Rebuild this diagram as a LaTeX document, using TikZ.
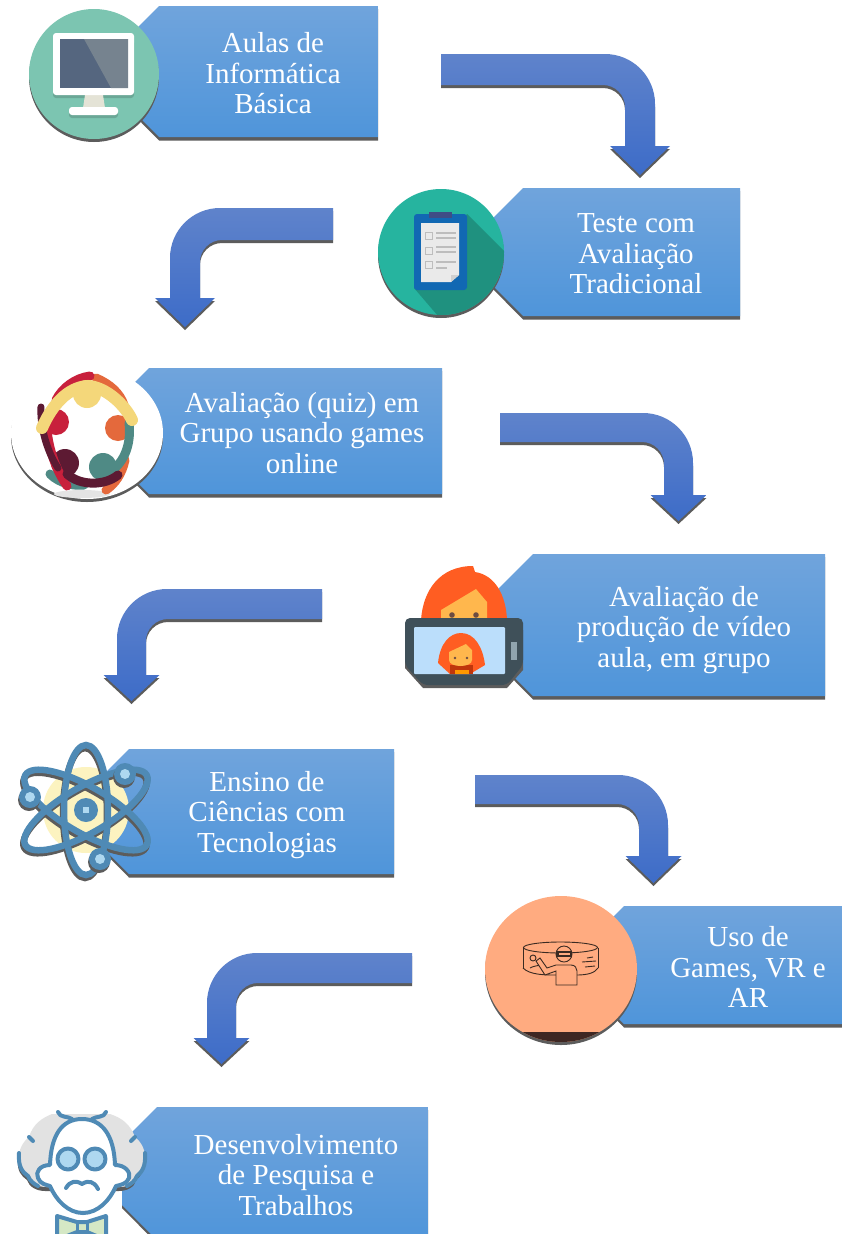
\documentclass[tikz,border=0pt]{standalone}
\usepackage{fontspec}
\setmainfont{Liberation Serif}
\definecolor{bantop}{HTML}{70A4DC}
\definecolor{banmid}{HTML}{619EDD}
\definecolor{banbot}{HTML}{4F95DA}
\definecolor{arrtop}{HTML}{5F83CB}
\definecolor{arrbot}{HTML}{3D6CC8}
\definecolor{castshade}{HTML}{5C5C5C}
\definecolor{atomblue}{HTML}{4F8AB5}
\definecolor{paleblue}{HTML}{AED8F0}
\definecolor{vrink}{HTML}{3A2A22}
\definecolor{vrbadge}{HTML}{FFAB80}
\definecolor{bowgreen}{HTML}{D5E8C5}
\definecolor{hairgrey}{HTML}{E2E2E2}
\tikzset{
  hx/.code={\definecolor{hxtmp}{HTML}{#1}\pgfkeysalso{color=hxtmp}},
  bannerfill/.style={top color=bantop,middle color=banmid,bottom color=banbot},
  arrowfill/.style={top color=arrtop,bottom color=arrbot},
  cast/.style={fill=castshade},
  captiontext/.style={text=white,align=center,font=\fontsize{29}{30.5}\selectfont,inner sep=0pt},
  orbit/.style={draw=atomblue,line width=6.5pt},
  orbitcast/.style={draw=castshade,line width=6.5pt},
  person/.style={line width=9pt,line cap=round},
  sciline/.style={draw=atomblue,line width=4pt,line join=round,line cap=round},
  vrline/.style={draw=vrink,line width=0.9pt}
}
% #1 top, #2 bottom, #3 chamfer start x, #4 right edge, #5 text centre x, #6 text centre y, #7 node name, #8 caption
\newcommand{\banner}[8]{
  \fill[cast] (#3,#1+3) -- (#3-35,#1+38) -- (#3-35,#2-32) -- (#3,#2+3.5) -- (#4,#2+3.5) -- (#4,#1+3) -- cycle;
  \shade[bannerfill] (#3,#1) -- (#3-35,#1+35) -- (#3-35,#2-35) -- (#3,#2) -- (#4,#2) -- (#4,#1) -- cycle;
  \node[captiontext] (#7) at (#5,#6) {#8};
}
% #1 free end x, #2 bar top, #3 bar bottom, #4 outer x, #5 inner x, #6 head y, #7 head half width, #8 tip y
\newcommand{\bentarrow}[8]{
  \begin{scope}[shift={(0,3)}]
    \fill[cast] (#1,#2) [rounded corners=50pt] -- (#4,#2) [sharp corners] -- (#4,#6)
      -- ({(#4+#5)/2+#7},#6) -- ({(#4+#5)/2},#8) -- ({(#4+#5)/2-#7},#6) -- (#5,#6)
      [rounded corners=22pt] -- (#5,#3) [sharp corners] -- (#1,#3) -- cycle;
  \end{scope}
  \shade[arrowfill] (#1,#2) [rounded corners=50pt] -- (#4,#2) [sharp corners] -- (#4,#6)
    -- ({(#4+#5)/2+#7},#6) -- ({(#4+#5)/2},#8) -- ({(#4+#5)/2-#7},#6) -- (#5,#6)
    [rounded corners=22pt] -- (#5,#3) [sharp corners] -- (#1,#3) -- cycle;
}
% outline of the scientist's hair, used for both the cast shadow and the fill
\newcommand{\hairoutline}{
  (52,1114) .. controls (42,1118) and (33,1124) .. (29,1137)
  .. controls (24,1141) and (19,1148) .. (19,1157)
  .. controls (18,1166) and (22,1172) .. (28,1176)
  .. controls (30,1183) and (38,1187) .. (46,1187) -- (120,1187)
  .. controls (128,1187) and (136,1183) .. (137,1176)
  .. controls (142,1172) and (146,1166) .. (145,1157)
  .. controls (145,1148) and (140,1141) .. (135,1137)
  .. controls (130,1124) and (122,1118) .. (110,1114) -- cycle
}
\begin{document}
\begin{tikzpicture}[x=1pt,y=-1pt]
\useasboundingbox (0,0) rectangle (842,1234);
\clip (0,0) rectangle (842,1234);
\fill[white] (0,0) rectangle (842,1234);

% flow arrows
\bentarrow{441}{54}{85}{655}{625}{146}{30}{175}
\bentarrow{333}{208}{240}{170}{200}{298}{30}{327}
\bentarrow{500}{413}{442}{693}{664}{495}{28}{521}
\bentarrow{322}{589}{619}{117}{146}{675}{28}{701}
\bentarrow{475}{775}{804}{668}{639}{856}{28}{883}
\bentarrow{412}{953}{983}{207}{236}{1038}{28}{1064}

% caption banners
\banner{6}{137}{159}{378}{273}{73.5}{b1}{Aulas de\\Informática\\Básica}
\banner{188}{316}{523}{740}{636}{254}{b2}{Teste com\\Avaliação\\Tradicional}
\banner{368}{494}{149}{442}{302}{433}{b3}{Avaliação (quiz) em\\Grupo usando games\\online}
\banner{554}{696}{533}{825}{684}{630}{b4}{Avaliação de\\produção de vídeo\\aula, em grupo}
\banner{749}{874}{129}{394}{267}{815}{b5}{Ensino de\\Ciências com\\Tecnologias}
\banner{906}{1024}{624}{842}{748}{967}{b6}{Uso de\\Games, VR e\\AR}
\banner{1107}{1240}{157}{428}{296}{1175}{b7}{Desenvolvimento\\de Pesquisa e\\Trabalhos}

% monitor badge
\fill[cast] (94,77) circle [radius=65pt];
\fill[hx=7CC5B1] (94,74) circle [radius=65pt];
\fill[hx=6AA796, rounded corners=3pt] (53,40) rectangle (134,98);
\fill[hx=E4E3D6] (85,95) -- (103,95) -- (105,108) -- (83,108) -- cycle;
\fill[hx=6AA796, rounded corners=3pt] (69,110) rectangle (118,118);
\fill[white, rounded corners=3pt] (69,107) rectangle (118,115);
\fill[white, rounded corners=3pt] (53,33) rectangle (134,95);
\fill[hx=55667F] (60,39) rectangle (128,88);
\fill[hx=76838F] (84,39) -- (128,39) -- (128,88) -- (111,88) -- cycle;

% clipboard badge
\fill[cast] (441,255) circle [radius=63pt];
\fill[hx=26B49F] (441,252) circle [radius=63pt];
\begin{scope}
  \clip (441,252) circle [radius=63pt];
  \fill[hx=1F917F] (467,214) -- (520,267) -- (450,330) -- (414,288) -- cycle;
\end{scope}
\fill[hx=1168B3, rounded corners=3pt] (414,214) rectangle (467,290);
\fill[hx=3F4D85] (429,212) rectangle (452,218);
\fill[hx=EAEAEA] (421,223) -- (459,223) -- (459,275) -- (451,282) -- (421,282) -- cycle;
\fill[hx=D0D0D0] (459,275) -- (451,275) -- (451,282) -- cycle;
\foreach \yy in {232,247,261} {
  \draw[hx=BDBDBD, line width=1.5pt] (425.5,\yy+.5) rectangle (432.5,\yy+7.5);
}
\draw[hx=BDBDBD, line width=1.6pt]
  (436,233) -- (456,233) (436,238) -- (456,238)
  (436,247) -- (456,247) (436,252) -- (456,252)
  (436,262) -- (456,262) (436,268) -- (447,268);

% group badge
\fill[cast] (87,436) ellipse [x radius=76pt, y radius=66pt];
\fill[white] (87,433) ellipse [x radius=76pt, y radius=66pt];
\fill[hx=E4E4E4] (82,494) ellipse [x radius=28pt, y radius=4pt];
\fill[hx=C8203C] (56,422) circle [radius=13pt];
\fill[hx=E4693C] (118,428) circle [radius=13pt];
\fill[hx=4F8A85] (103,467) circle [radius=14pt];
\fill[hx=5D1A33] (65,463) circle [radius=14pt];
\draw[person, hx=E4693C] (96,378) .. controls (110,384) and (120,393) .. (124,405);
\draw[person, hx=E4693C] (125,460) .. controls (122,474) and (115,484) .. (106,490);
\draw[person, hx=4F8A85] (129,423) .. controls (131,440) and (127,458) .. (113,470);
\draw[person, hx=4F8A85] (50,474) .. controls (60,484) and (74,486) .. (84,485);
\draw[person, hx=C8203C] (90,376) .. controls (75,378) and (62,388) .. (56,400);
\draw[person, hx=C8203C] (47,430) .. controls (49,450) and (56,470) .. (67,486);
\draw[person, hx=5D1A33, line width=7pt] (41,407) .. controls (40,425) and (46,450) .. (58,468);
\draw[person, hx=5D1A33] (67,474) .. controls (80,486) and (105,486) .. (118,475);
\draw[person, hx=F4D77A, line width=12pt] (42,428) .. controls (52,405) and (68,387) .. (88,386)
   .. controls (106,387) and (125,405) .. (132,420);
\fill[hx=F4D77A] (87,394) circle [radius=14pt];

% video call badge
\fill[hx=FF5D22] (421,620) .. controls (423,590) and (440,566) .. (473,566) -- (475,572)
  .. controls (495,575) and (506,595) .. (507,620) -- cycle;
\fill[hx=FFB74D] (441,610) -- (476,589) -- (487,602) -- (487,620) -- (441,620) -- cycle;
\fill[hx=6D4C41] (452,615) circle [radius=2.8pt] (476,615) circle [radius=2.8pt];
\fill[cast] (405,630) -- (405,668) -- (423,688) -- (507,688) -- (523,670) -- (523,630) -- cycle;
\fill[hx=3F5059, rounded corners=5pt] (405,665) -- (405,618) -- (523,618) -- (523,665) -- (507,685) -- (423,685) -- cycle;
\fill[hx=BBDEFB, rounded corners=1pt] (414,627) rectangle (505,674);
\fill[hx=90A4AE] (511,642) rectangle (517,660);
\begin{scope}
  \clip (414,627) rectangle (505,674);
  \fill[hx=FF5D22] (438,663) .. controls (440,643) and (450,633) .. (461,633)
    .. controls (475,633) and (483,648) .. (485,665) -- (470,674) -- (450,674) -- cycle;
  \fill[hx=BF360C] (450,665) rectangle (473,674);
  \fill[hx=FF9800] (455,670) rectangle (469,674);
  \fill[hx=FFB74D] (449,652) -- (466,644) -- (472,650) -- (472,660) .. controls (472,668) and (449,668) .. (449,660) -- cycle;
  \fill[hx=6D4C41] (455,658) circle [radius=1.3pt] (467,658) circle [radius=1.3pt];
\end{scope}

% atom badge
\fill[hx=FCF3C0] (86,810) circle [radius=43pt];
\draw[orbitcast] (85,813) ellipse [x radius=22pt, y radius=65pt];
\draw[orbitcast] (85,813) ellipse [x radius=70pt, y radius=23pt, rotate=30];
\draw[orbitcast] (85,813) ellipse [x radius=70pt, y radius=23pt, rotate=-30];
\draw[orbit] (86,810) ellipse [x radius=22pt, y radius=65pt];
\draw[orbit] (86,810) ellipse [x radius=70pt, y radius=23pt, rotate=30];
\draw[orbit] (86,810) ellipse [x radius=70pt, y radius=23pt, rotate=-30];
\fill[atomblue] (86,810) circle [radius=12pt];
\fill[paleblue] (83,807) rectangle (89,813);
\foreach \ex/\ey in {125/774,30/797,100/859} {
  \fill[castshade] (\ex-1,\ey+3) circle [radius=11pt];
  \fill[atomblue] (\ex,\ey) circle [radius=11pt];
  \fill[paleblue] (\ex,\ey) circle [radius=5pt];
}

% virtual reality badge
\fill[cast] (561,972) ellipse [x radius=76pt, y radius=73pt];
\fill[vrbadge] (561,969) ellipse [x radius=76pt, y radius=73pt];
\begin{scope}
  \clip (561,969) ellipse [x radius=76pt, y radius=73pt];
  \fill[hx=3E2723] (480,1032) rectangle (640,1050);
\end{scope}
\draw[vrline] (560.5,947.5) ellipse [x radius=37pt, y radius=5.5pt];
\draw[vrline] (523,947.5) -- (523,968) (598,947.5) -- (598,968);
\draw[vrline] (523,968) .. controls (530,975) and (545,975) .. (556,975);
\draw[vrline] (577,975) .. controls (587,975) and (595,973) .. (598,968);
\draw[vrline] (530,968) .. controls (533,966) and (540,965) .. (545,965);
\draw[vrline] (587,958) -- (593,957) (582,962) -- (596,961) (585,967) -- (595,966);
\draw[vrline] (533,958) circle [radius=3pt];
\draw[vrline, fill=vrbadge] (556,985) -- (556,971) -- (545,975) -- (536,961) -- (540,958) -- (547,968) -- (556,965)
  -- (571,965) .. controls (575,965) and (577,968) .. (577,971) -- (577,985) -- cycle;
\draw[vrline, fill=vrbadge] (564,954) circle [radius=8pt];
\fill[vrink] (556,951) rectangle (572,957);
\fill[vrbadge] (559,953) rectangle (570,955);

% scientist badge
\begin{scope}[shift={(-1,4)}]
  \fill[cast] \hairoutline;
\end{scope}
\fill[fill=hairgrey] \hairoutline;
\draw[sciline] (19,1153) .. controls (18,1166) and (22,1172) .. (28,1176) .. controls (30,1181) and (34,1184) .. (38,1186)
  (145,1153) .. controls (146,1166) and (142,1172) .. (137,1176) .. controls (135,1181) and (131,1184) .. (127,1186)
  (29,1137) -- (33,1141) (135,1137) -- (131,1141);
\draw[sciline] (58,1112) .. controls (60,1118) and (68,1116) .. (72,1119)
   (106,1112) .. controls (104,1118) and (96,1116) .. (92,1119);
\draw[sciline, fill=white] (82,1119) .. controls (62,1119) and (51,1135) .. (50,1165)
   .. controls (40,1165) and (35,1172) .. (38,1178) .. controls (40,1184) and (47,1185) .. (50,1186)
   .. controls (56,1200) and (68,1213) .. (83,1213)
   .. controls (98,1213) and (110,1200) .. (116,1186) .. controls (120,1185) and (127,1184) .. (129,1178)
   .. controls (131,1172) and (125,1165) .. (115,1165) .. controls (114,1135) and (102,1119) .. (82,1119) -- cycle;
\draw[sciline, fill=paleblue] (68,1159) circle [radius=10.5pt] (95,1159) circle [radius=10.5pt];
\draw[sciline] (66,1188) .. controls (70,1181) and (76,1180) .. (82,1184) .. controls (88,1180) and (94,1181) .. (98,1189);
\draw[sciline, fill=bowgreen] (57,1216) -- (77,1222) -- (87,1222) -- (106,1216) -- (106,1240) -- (87,1232) -- (77,1232) -- (57,1240) -- cycle;
\draw[sciline, line width=3pt] (77,1222) -- (77,1232) (87,1222) -- (87,1232);
\end{tikzpicture}
\end{document}
